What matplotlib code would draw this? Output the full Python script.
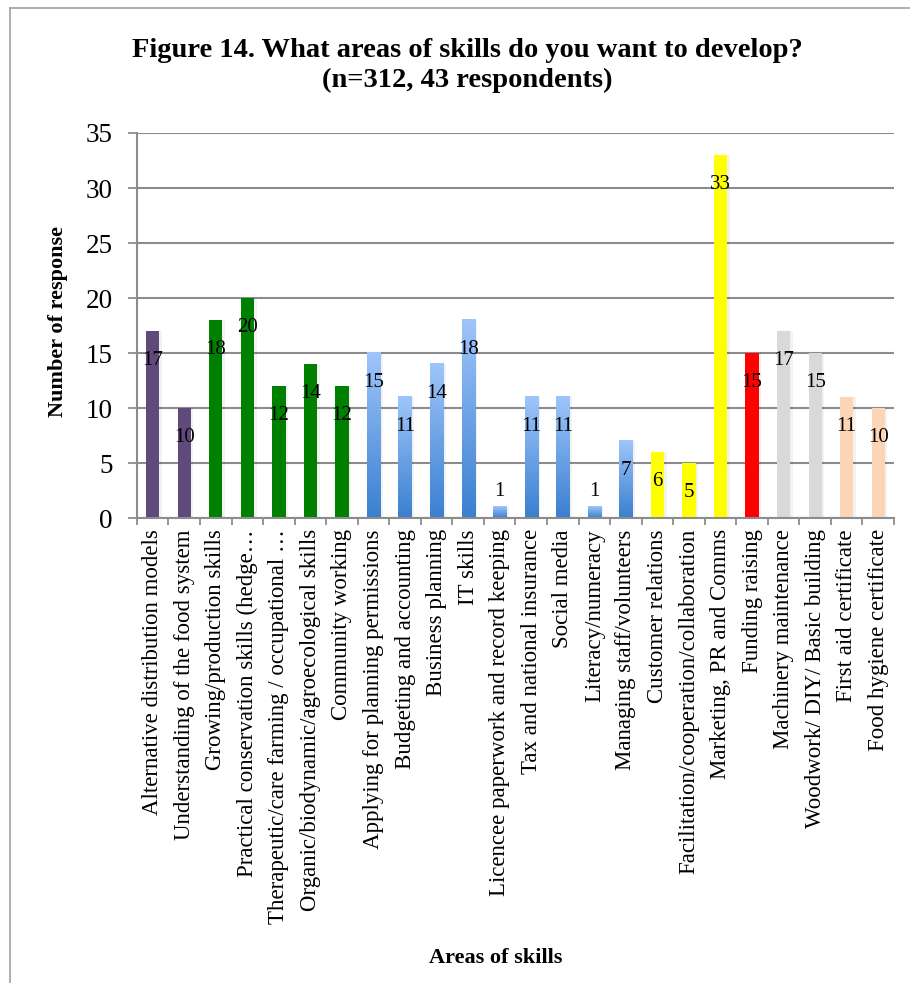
import numpy as np
import matplotlib
matplotlib.use("Agg")
import matplotlib.pyplot as plt
from matplotlib.colors import LinearSegmentedColormap
from matplotlib.lines import Line2D

# skill areas and response counts
skills = [
    "Alternative distribution models",
    "Understanding of the food system",
    "Growing/production skills",
    "Practical conservation skills (hedge\u2026",
    "Therapeutic/care farming / occupational \u2026",
    "Organic/biodynamic/agroecological skills",
    "Community working",
    "Applying for planning permissions",
    "Budgeting and accounting",
    "Business planning",
    "IT skills",
    "Licencee paperwork and record keeping",
    "Tax and national insurance",
    "Social media",
    "Literacy/numeracy",
    "Managing staff/volunteers",
    "Customer relations",
    "Facilitation/cooperation/collaboration",
    "Marketing, PR and Comms",
    "Funding raising",
    "Machinery maintenance",
    "Woodwork/ DIY/ Basic building",
    "First aid certificate",
    "Food hygiene certificate",
]
counts = [17, 10, 18, 20, 12, 14, 12, 15, 11, 14, 18, 1, 11, 11, 1, 7, 6, 5, 33, 15, 17, 15, 11, 10]
groups = ["purple"] * 2 + ["green"] * 5 + ["blue"] * 9 + ["yellow"] * 3 + ["red"] + ["grey"] * 2 + ["peach"] * 2

fills = {
    "purple": "#604a7b",
    "green": "#008000",
    "yellow": "#ffff00",
    "red": "#ff0000",
    "grey": "#d9d9d9",
    "peach": "#fbd5b5",
}
blue_grad = LinearSegmentedColormap.from_list("bluegrad", ["#3a80d0", "#9ec5fb"])

plt.rcParams["font.family"] = ["Liberation Serif", "DejaVu Serif"]

fig = plt.figure(figsize=(9.1, 9.83), dpi=100)
ax = fig.add_axes([0.1505, 0.473, 0.8319, 0.3917])

x = np.arange(len(skills))
width = 0.42
for xi, v, g in zip(x, counts, groups):
    if g == "blue":
        grad = np.linspace(0, 1, 100).reshape(-1, 1)
        ax.imshow(grad, cmap=blue_grad, origin="lower", aspect="auto",
                  extent=(xi - width / 2, xi + width / 2, 0, v), zorder=2)
    else:
        ax.bar(xi, v, width=width, color=fills[g], zorder=2)
    # faint shadow on the right
    ax.bar(xi + width / 2 + 0.04, v, width=0.08, color="#000000", alpha=0.05,
           zorder=1.5, linewidth=0)

    if v < 3:
        ax.annotate(str(v), (xi, v), xytext=(0, 16), textcoords="offset pixels",
                    ha="center", va="center", fontsize=15, zorder=4)
    else:
        ax.annotate(str(v), (xi, v), xytext=(0, -29), textcoords="offset pixels",
                    ha="center", va="center", fontsize=15, zorder=4)

ax.set_xlim(-0.5, len(skills) - 0.5)
ax.set_ylim(0, 35)
ax.set_yticks(range(0, 36, 5))
ax.tick_params(axis="y", labelsize=19.5, length=6.5, width=1.3, color="#8c8c8c", pad=11)

ax.set_xticks(x)
ax.set_xticklabels(skills, rotation=90, fontsize=16.5, va="top", ha="center")
ax.set_xticks(np.arange(-0.5, len(skills), 1), minor=True)
ax.tick_params(axis="x", which="major", length=0, pad=8)
ax.tick_params(axis="x", which="minor", length=5, width=1.3, color="#8c8c8c")

ax.grid(axis="y", color="#8c8c8c", linewidth=1.5, zorder=0)
ax.set_axisbelow(True)
for s in ["top", "right"]:
    ax.spines[s].set_visible(False)
for s in ["left", "bottom"]:
    ax.spines[s].set_color("#8c8c8c")
    ax.spines[s].set_linewidth(1.5)

ax.set_ylabel("Number of response", fontsize=16, fontweight="bold")
ax.yaxis.set_label_coords(-0.091, 0.51)
fig.text(0.545, 0.0255, "Areas of skills", fontsize=16, fontweight="bold",
         ha="center", va="center")

fig.text(0.514, 0.949, "Figure 14. What areas of skills do you want to develop?",
         fontsize=20.5, fontweight="bold", ha="center", va="center")
fig.text(0.514, 0.918, "(n=312, 43 respondents)",
         fontsize=20.5, fontweight="bold", ha="center", va="center")

# outer frame (top and left)
fig.add_artist(Line2D([0.011, 0.011], [0, 0.992], transform=fig.transFigure,
                      color="#a0a0a0", linewidth=1.2))
fig.add_artist(Line2D([0.011, 1.0], [0.992, 0.992], transform=fig.transFigure,
                      color="#a0a0a0", linewidth=1.2))

fig.savefig("out.png", dpi=100)
